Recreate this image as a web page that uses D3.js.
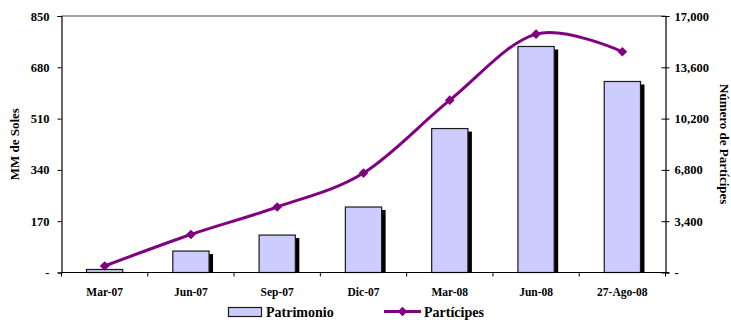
<!DOCTYPE html>
<html>
<head>
<meta charset="utf-8">
<script src="https://cdn.jsdelivr.net/npm/d3@7"></script>
<style>
  html, body { margin: 0; padding: 0; background: #fff; }
  svg { display: block; }
  text { font-family: "Liberation Serif", "Times New Roman", serif; font-weight: bold; fill: #000; }
</style>
</head>
<body>
<svg id="chart" width="731" height="322"></svg>
<script>
// Fund equity (millions of soles) and number of participants per period
const categories = ["Mar-07", "Jun-07", "Sep-07", "Dic-07", "Mar-08", "Jun-08", "27-Ago-08"];
const patrimonio = [10, 71, 124, 217, 477, 749, 633];
const participes = [430, 2520, 4340, 6590, 11420, 15800, 14630];
const leftTicks = [0, 170, 340, 510, 680, 850];
const rightTicks = [0, 3400, 6800, 10200, 13600, 17000];

const svg = d3.select("#chart");
const m = { left: 61.5, right: 665.5, top: 16, bottom: 272.5 };

const x = d3.scaleBand().domain(categories).range([m.left, m.right]).padding(0);
const yL = d3.scaleLinear().domain([0, 850]).range([m.bottom, m.top]);
const yR = d3.scaleLinear().domain([0, 17000]).range([m.bottom, m.top]);

const fmt = d => d === 0 ? "-" : d3.format(",")(d);

// Top border of the plot area
svg.append("line")
  .attr("x1", m.left).attr("x2", m.right)
  .attr("y1", m.top).attr("y2", m.top)
  .attr("stroke", "#808080").attr("stroke-width", 1.5);

// Bars with drop shadow
const barW = x.bandwidth() * 0.42;
const bars = svg.append("g");
bars.selectAll("rect.shadow").data(patrimonio).join("rect")
  .attr("class", "shadow")
  .attr("x", (d, i) => x(categories[i]) + (x.bandwidth() - barW) / 2 + 4)
  .attr("y", d => yL(d) + 3)
  .attr("width", barW)
  .attr("height", d => Math.max(0, yL(0) - yL(d) - 3))
  .attr("fill", "#000");
bars.selectAll("rect.bar").data(patrimonio).join("rect")
  .attr("class", "bar")
  .attr("x", (d, i) => x(categories[i]) + (x.bandwidth() - barW) / 2)
  .attr("y", d => yL(d))
  .attr("width", barW)
  .attr("height", d => yL(0) - yL(d))
  .attr("fill", "#CCCCFF")
  .attr("stroke", "#1a1a1a")
  .attr("stroke-width", 1.2);

// Left axis
const axL = svg.append("g").attr("transform", `translate(${m.left},0)`)
  .call(d3.axisLeft(yL).tickValues(leftTicks).tickFormat(fmt).tickSize(4).tickPadding(8));
axL.select(".domain").attr("stroke", "#000").attr("stroke-width", 1.2);
axL.selectAll(".tick line").attr("stroke", "#000");
axL.selectAll("text").attr("font-size", 12.5);

// Right axis with crossing ticks
const axR = svg.append("g").attr("transform", `translate(${m.right},0)`)
  .call(d3.axisRight(yR).tickValues(rightTicks).tickFormat(fmt).tickSize(4).tickPadding(5));
axR.select(".domain").attr("stroke", "#000").attr("stroke-width", 1.2);
axR.selectAll(".tick line").attr("x1", -4).attr("stroke", "#000");
axR.selectAll("text").attr("font-size", 12.5);

// Bottom axis: ticks between categories
const axB = svg.append("g").attr("transform", `translate(0,${m.bottom})`);
axB.append("line").attr("x1", m.left).attr("x2", m.right + 3).attr("stroke", "#000").attr("stroke-width", 1.2);
const edges = categories.map(c => x(c)).concat([m.right]);
axB.selectAll("line.tk").data(edges).join("line")
  .attr("class", "tk")
  .attr("x1", d => d).attr("x2", d => d)
  .attr("y1", 0).attr("y2", 4)
  .attr("stroke", "#000");
axB.selectAll("text").data(categories).join("text")
  .attr("x", d => x(d) + x.bandwidth() / 2)
  .attr("y", 23)
  .attr("text-anchor", "middle")
  .attr("font-size", 11.5)
  .text(d => d);

// Participants line (smoothed) with diamond markers
const lineGen = d3.line()
  .x((d, i) => x(categories[i]) + x.bandwidth() / 2)
  .y(d => yR(d))
  .curve(d3.curveCardinal.tension(0));
svg.append("path")
  .datum(participes)
  .attr("d", lineGen)
  .attr("fill", "none")
  .attr("stroke", "#800080")
  .attr("stroke-width", 3);
const diamond = d3.symbol().type(d3.symbolDiamond2).size(60);
svg.append("g").selectAll("path").data(participes).join("path")
  .attr("transform", (d, i) => `translate(${x(categories[i]) + x.bandwidth() / 2},${yR(d)})`)
  .attr("d", diamond)
  .attr("fill", "#800080");

// Axis titles
svg.append("text")
  .attr("transform", `translate(19,${(m.top + m.bottom) / 2}) rotate(-90)`)
  .attr("text-anchor", "middle")
  .attr("font-size", 13)
  .text("MM de Soles");
svg.append("text")
  .attr("transform", `translate(720,${(m.top + m.bottom) / 2}) rotate(90)`)
  .attr("text-anchor", "middle")
  .attr("font-size", 13)
  .text("Número de Partícipes");

// Legend
const lg = svg.append("g");
lg.append("rect").attr("x", 228.5).attr("y", 307.5).attr("width", 33).attr("height", 9)
  .attr("fill", "#CCCCFF").attr("stroke", "#1a1a1a").attr("stroke-width", 1.2);
lg.append("text").attr("x", 266).attr("y", 317).attr("font-size", 14).text("Patrimonio");
lg.append("line").attr("x1", 384).attr("x2", 421).attr("y1", 311.5).attr("y2", 311.5)
  .attr("stroke", "#800080").attr("stroke-width", 3);
lg.append("path").attr("transform", "translate(402.5,311.5)").attr("d", diamond).attr("fill", "#800080");
lg.append("text").attr("x", 424).attr("y", 317).attr("font-size", 14).text("Partícipes");
</script>
</body>
</html>
